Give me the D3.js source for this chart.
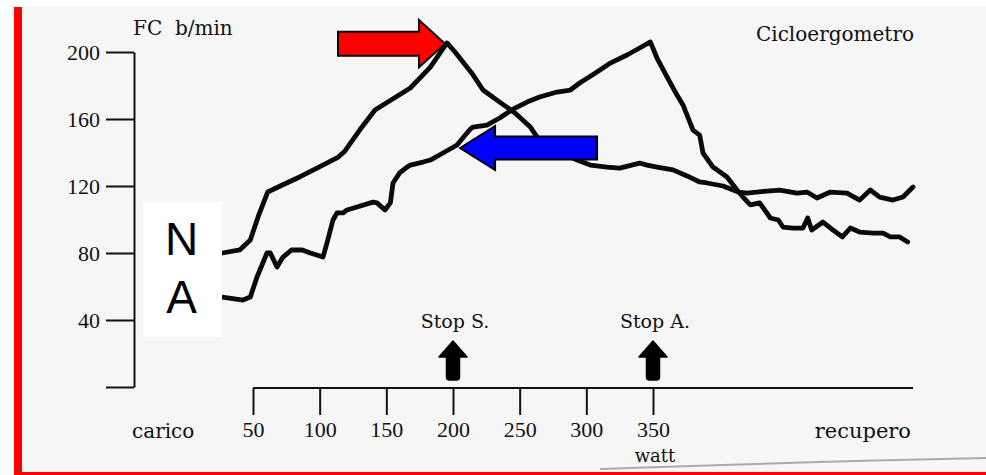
<!DOCTYPE html>
<html><head><meta charset="utf-8">
<script src="https://cdn.jsdelivr.net/npm/d3@7"></script>
<style>
html,body{margin:0;padding:0;background:#fff;}
svg{display:block;}
</style></head>
<body>
<svg id="chart" width="986" height="475"></svg>
<script>
// ---- data (x in watt-equivalent units along the bottom scale, y in beats/min) ----
const seriesN = [[20,80],[27,80],[40,81.8],[48,87.8],[54,102],[61,116.4],[72,120.6],[85,125.4],[98,130.7],[114,137.3],[119,140.9],[130,153.4],[141.5,165.4],[147.5,168.4],[168,178.5],[183,191],[195.5,205.4],[201.5,200],[214,187.5],[222.5,177.3],[235,170.1],[246.5,163.6],[258,155.2],[263,149.3],[278,141.5],[293,135.5],[303,132.5],[315.5,131.3],[325,130.7],[340,133.7],[345.5,132.5],[353,131.3],[365,129.6],[375.5,126],[385,122.4],[390.5,121.8],[402.5,120],[414,116.4],[420.5,115.8],[435.5,117],[445,117.6],[458,115.8],[465.5,116.4],[473,112.8],[483,116.4],[495.5,115.8],[505,111.6],[513,117.6],[520,113.4],[530,111.6],[537.5,113.4],[545,119.4]];
const seriesA = [[20,53.7],[27,53.7],[42.5,51.9],[48,53.7],[53,65.7],[60.5,80],[63,80],[68,71.6],[72.5,77.6],[79,81.8],[87,81.8],[93,80],[102.5,77.6],[105.5,86],[110,99.7],[113,103.9],[117.5,103.9],[120.5,105.7],[128,107.5],[140,110.4],[143,109.9],[149,105.7],[153,109.9],[155,121.8],[160,127.8],[165.5,131.3],[168,132.5],[177.5,134.3],[183,135.5],[192.5,139.7],[203,144.5],[213,154],[215,155.2],[225.5,156.4],[235,160.6],[244,165.4],[255.5,170.1],[265,173.1],[278,176.1],[288,177.3],[295,181.5],[308,188.1],[318,193.4],[330.5,198.2],[340,202.4],[348,206],[353,196.4],[360.5,185.1],[368,174.3],[372.5,168.4],[380,153.4],[385,150.4],[387.5,139.7],[395,131.3],[405.5,125.4],[413,117.6],[417.5,113.4],[423,108.7],[430,109.9],[438,100.9],[444,99.7],[447.5,95.5],[455,94.9],[462.5,94.9],[466,100.9],[469,93.7],[477.5,98.5],[485,93.7],[492,89.6],[498,94.9],[505,92.5],[515,91.9],[522.5,91.9],[528,89.6],[535,89.6],[541,86.6]];
const yTicks = [0,40,80,120,160,200];
const xTicks = [50,100,150,200,250,300,350];
const xEnd = 545;
const stops = [{w:200,label:"Stop S."},{w:350,label:"Stop A."}];
const redArrowTip = [194,205];
const blueArrowTip = [205.3,142.7];
const boxLetters = ["N","A"];

// ---- drawing ----
const svg = d3.select("#chart");
const x = d3.scaleLinear().domain([50,350]).range([253,653]);
const y = d3.scaleLinear().domain([0,200]).range([387,52]);
const serif = "'DejaVu Serif', serif";
const numFont = "'Liberation Serif', serif";
const ink = "#111";

// paper
svg.append("rect").attr("x",0).attr("y",0).attr("width",986).attr("height",475).attr("fill","#fff");
svg.append("rect").attr("x",22).attr("y",7).attr("width",964).attr("height",466).attr("fill","#f6f6f6");
// paper edge shadow
svg.append("path").attr("d","M600,469 Q800,462 986,458").attr("fill","none").attr("stroke","#aaa").attr("stroke-width",2);

// Y axis
const yAxis = svg.append("g").attr("transform","translate(134,0)")
  .call(d3.axisLeft(y).tickValues(yTicks).tickSize(28).tickSizeOuter(0).tickPadding(6)
        .tickFormat(d => d === 0 ? "" : d));
yAxis.select(".domain").attr("stroke",ink).attr("stroke-width",2);
yAxis.selectAll(".tick line").attr("stroke",ink).attr("stroke-width",2);
yAxis.selectAll(".tick text").attr("font-family",numFont).attr("font-size",22).attr("fill",ink).attr("dy","0.34em");

// X axis
const xAxisG = svg.append("g").attr("transform","translate(0,388)")
  .call(d3.axisBottom(x).tickValues(xTicks).tickSize(27).tickSizeOuter(0));
xAxisG.select(".domain").remove();
xAxisG.append("line").attr("x1",x(50)).attr("x2",x(xEnd)).attr("y1",0).attr("y2",0).attr("stroke",ink).attr("stroke-width",2);
xAxisG.selectAll(".tick line").attr("stroke",ink).attr("stroke-width",2);
xAxisG.selectAll(".tick text").attr("font-family",numFont).attr("font-size",22).attr("fill",ink).attr("y",49).attr("dy",0);

// texts
function label(t, px, py, size, anchor){
  svg.append("text").attr("x",px).attr("y",py).attr("font-family",serif).attr("font-size",size)
    .attr("fill",ink).attr("text-anchor",anchor||"start").attr("xml:space","preserve").text(t);
}
label("FC  b/min",133,35,20);
label("Cicloergometro",914,41,20,"end");
label("carico",132,438,20);
label("recupero",911,438,21,"end");
label("watt",x(350)+2,462,18,"middle");

// curves
const line = d3.line().x(d=>x(d[0])).y(d=>y(d[1]));
[seriesN, seriesA].forEach(s=>{
  svg.append("path").datum(s).attr("d",line).attr("fill","none")
    .attr("stroke","#0a0a0a").attr("stroke-width",4.8).attr("stroke-linejoin","round").attr("stroke-linecap","round");
});

// horizontal block arrows
function hArrow(tx, ty, dir, total, head, bh, hh){
  const b = tx - dir*head, e = tx - dir*total;
  return `M${tx},${ty} L${b},${ty-hh} L${b},${ty-bh} L${e},${ty-bh} L${e},${ty+bh} L${b},${ty+bh} L${b},${ty+hh} Z`;
}
svg.append("path").attr("d",hArrow(x(redArrowTip[0]),y(redArrowTip[1]),1,107,26,12,23.5))
  .attr("fill","#ff0000").attr("stroke","#000").attr("stroke-width",2).attr("stroke-linejoin","miter");
svg.append("path").attr("d",hArrow(x(blueArrowTip[0]),y(blueArrowTip[1]),-1,137,35,11.5,22))
  .attr("fill","#0000ff").attr("stroke","#000").attr("stroke-width",2).attr("stroke-linejoin","miter");

// stop arrows
stops.forEach(s=>{
  const cx = x(s.w);
  label(s.label, cx+2, 328, 19, "middle");
  const tip = 341, hb = 357, bot = 380, hh = 14, bh = 6.5;
  svg.append("path")
    .attr("d",`M${cx},${tip} L${cx+hh},${hb} L${cx+bh},${hb} L${cx+bh},${bot-3} Q${cx+bh},${bot} ${cx+bh-3},${bot} L${cx-bh+3},${bot} Q${cx-bh},${bot} ${cx-bh},${bot-3} L${cx-bh},${hb} L${cx-hh},${hb} Z`)
    .attr("fill","#000").attr("stroke","#000").attr("stroke-width",1.5).attr("stroke-linejoin","round");
});

// N / A box
svg.append("rect").attr("x",143).attr("y",202).attr("width",79).attr("height",135).attr("fill","#fff");
boxLetters.forEach((t,i)=>{
  svg.append("text").attr("x",181.5).attr("y",255+i*58).attr("text-anchor","middle")
    .attr("font-family","'Liberation Sans', Arial, sans-serif").attr("font-size",46).attr("fill","#000").text(t);
});

// red frame
svg.append("rect").attr("x",14).attr("y",7).attr("width",8).attr("height",468).attr("fill","#ff0000");
svg.append("rect").attr("x",14).attr("y",472).attr("width",972).attr("height",3).attr("fill","#ff0000");
</script>
</body></html>
